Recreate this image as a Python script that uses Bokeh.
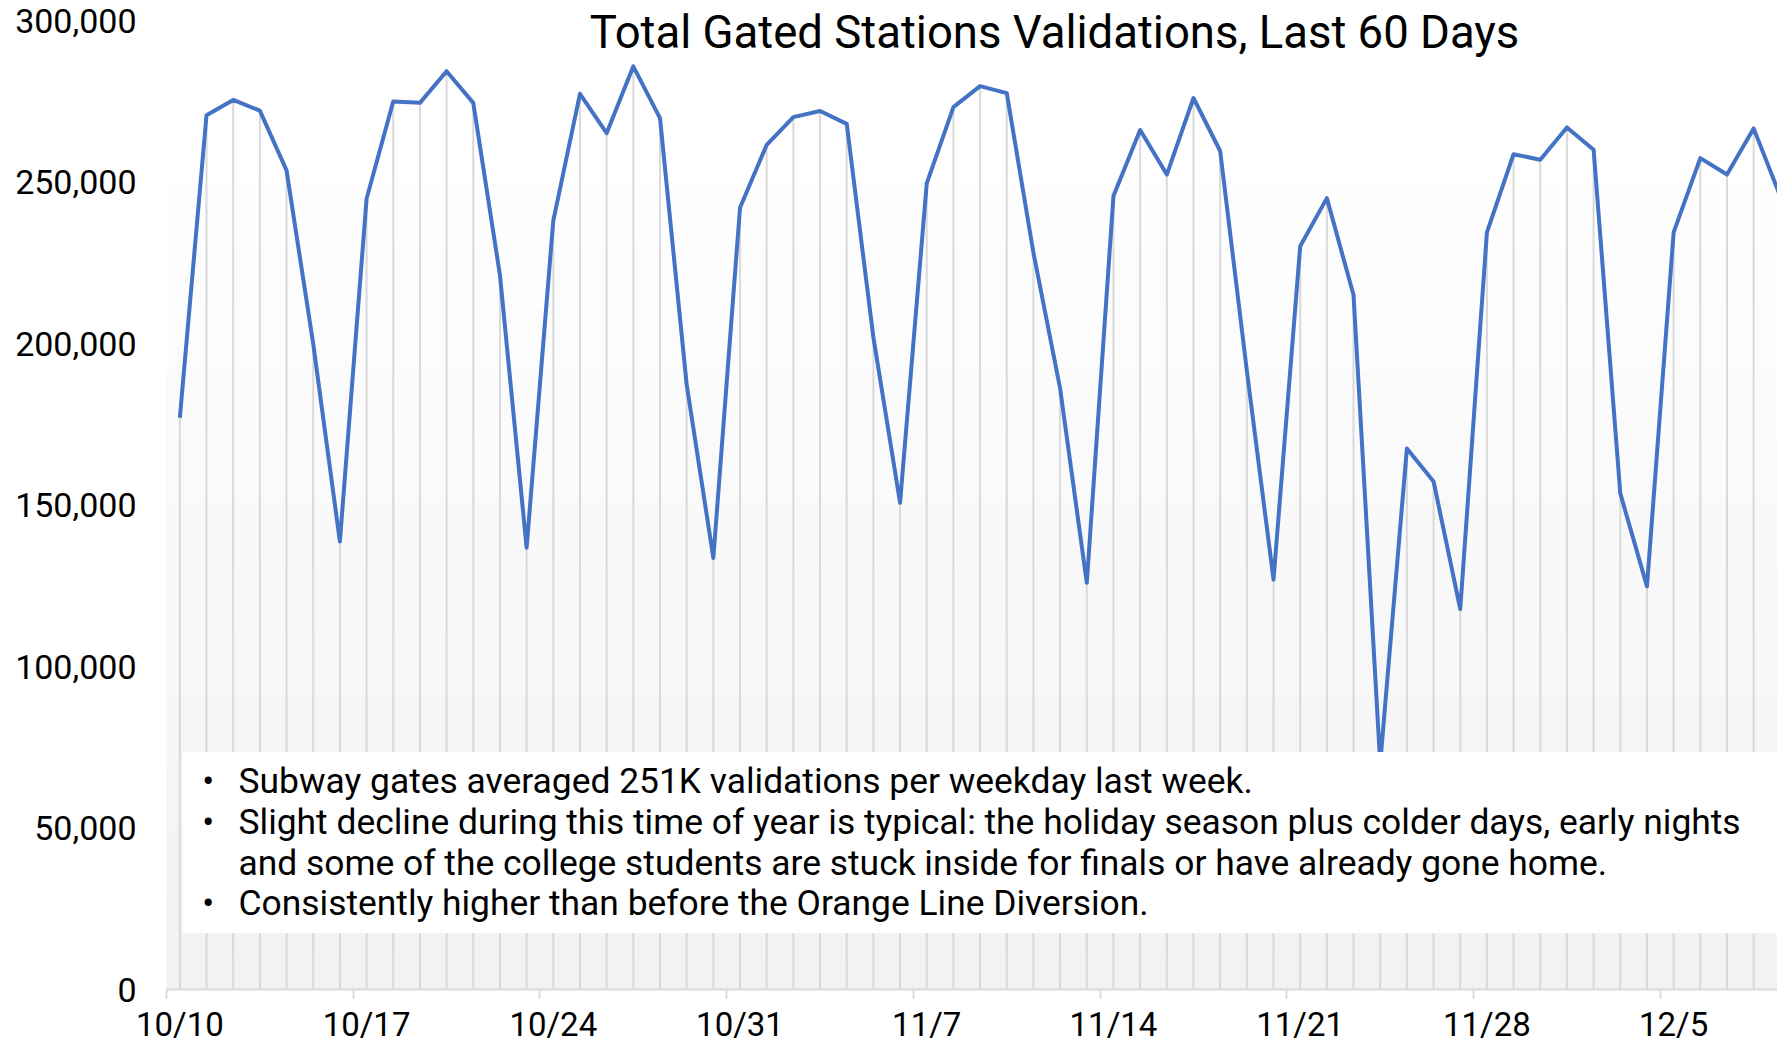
import numpy as np
import pandas as pd
from bokeh.plotting import figure
from bokeh.models import Range1d, FixedTicker, NumeralTickFormatter, Label, BoxAnnotation
from bokeh.embed import file_html
from bokeh.resources import INLINE

# ---------------- data ----------------
dates = pd.date_range("2022-10-10", periods=61)
day_labels = [f"{d.month}/{d.day}" for d in dates]

validations = [
    177000, 270700, 275400, 272100, 253600, 199900, 138700,   # 10/10 - 10/16
    244800, 274900, 274500, 284300, 274500, 221200, 136800,   # 10/17 - 10/23
    238000, 277300, 265100, 285800, 269800, 187300, 133600,   # 10/24 - 10/30
    242000, 261500, 270100, 272000, 268000, 201900, 150700,   # 10/31 - 11/6
    249600, 273200, 279700, 277500, 228100, 186100, 125900,   # 11/7 - 11/13
    245700, 266100, 252300, 276000, 259600, 191600, 126900,   # 11/14 - 11/20
    230100, 245000, 215000, 70000, 167500, 157300, 117800,    # 11/21 - 11/27
    234400, 258600, 256900, 266900, 260000, 153600, 124800,   # 11/28 - 12/4
    234400, 257400, 252300, 266600, 245500,                   # 12/5 - 12/9
]

x_tick_days = [0, 7, 14, 21, 28, 35, 42, 49, 56]
x_tick_labels = ["10/10", "10/17", "10/24", "10/31", "11/7", "11/14", "11/21", "11/28", "12/5"]
y_ticks = [0, 50000, 100000, 150000, 200000, 250000, 300000]

title_text = "Total Gated Stations Validations, Last 60 Days"
notes = [
    "Subway gates averaged 251K validations per weekday last week.",
    "Slight decline during this time of year is typical: the holiday season plus colder days, early nights",
    "and some of the college students are stuck inside for finals or have already gone home.",
    "Consistently higher than before the Orange Line Diversion.",
]
note_bullet = [True, True, False, True]

# ---------------- layout ----------------
FONT = "Roboto"
W, H = 1777, 1045
PLOT_LEFT_PX = 166       # canvas column of the plot area's left edge
ZERO_PX = 989            # canvas row of the value 0
DAY_PX = 26.675
VAL_PER_PX = 300000 / 969.0
x_left_edge = -0.5
x_start = x_left_edge - PLOT_LEFT_PX / DAY_PX    # frame reaches left of canvas
x_end = x_left_edge + (W - PLOT_LEFT_PX) / DAY_PX
y_end = ZERO_PX * VAL_PER_PX                      # frame reaches top of canvas
y_start = -(H - ZERO_PX) * VAL_PER_PX             # frame reaches bottom of canvas

p = figure(width=W, height=H, output_backend="svg", toolbar_location=None,
           x_range=Range1d(x_start, x_end), y_range=Range1d(y_start, y_end),
           min_border_left=0, min_border_right=0,
           min_border_top=0, min_border_bottom=0)
p.background_fill_color = "white"
p.border_fill_color = "white"
p.outline_line_color = None
p.xgrid.visible = False
p.ygrid.visible = False

# plot-area gradient (light grey at bottom to white near top)
n = 300
img = np.zeros((n, 1), dtype=np.uint32)
view = img.view(dtype=np.uint8).reshape((n, 1, 4))
for i in range(n):
    frac = min((i + 0.5) / n * 300000 / 261000, 1.0)
    g = int(round(242 + 13 * frac))
    view[i, 0, :] = [g, g, g, 255]
p.image_rgba(image=[img], x=x_left_edge, y=0, dw=62, dh=300000, level="image")

xs = list(range(len(validations)))
p.segment(x0=xs, y0=[0] * len(xs), x1=xs, y1=validations,
          line_color="#d9d9d9", line_width=2)
p.line(xs, validations, line_color="#4472C4", line_width=4, line_join="round")

# x axis at value 0: weekly boundary ticks (minor), date labels centred on week's first day
xax = p.xaxis[0]
xax.fixed_location = 0
xax.bounds = (x_left_edge, x_end + 5)
xax.ticker = FixedTicker(ticks=x_tick_days, minor_ticks=[d - 0.5 for d in x_tick_days])
xax.major_label_overrides = {d: t for d, t in zip(x_tick_days, x_tick_labels)}
xax.major_tick_line_color = None
xax.major_tick_out = 9
xax.major_tick_in = 0
xax.major_label_standoff = 6
xax.major_label_text_font = FONT
xax.major_label_text_font_size = "33px"
xax.major_label_text_color = "black"
xax.major_label_text_line_height = 0.8
xax.minor_tick_line_color = "#d9d9d9"
xax.minor_tick_line_width = 2
xax.minor_tick_out = 9
xax.minor_tick_in = 0
xax.axis_line_color = "#d9d9d9"
xax.axis_line_width = 2

# y axis at the plot area's left edge
yax = p.yaxis[0]
yax.fixed_location = x_left_edge
yax.ticker = FixedTicker(ticks=y_ticks)
yax.formatter = NumeralTickFormatter(format="0,0")
yax.axis_line_color = None
yax.major_tick_line_color = None
yax.minor_tick_line_color = None
yax.major_tick_out = 0
yax.major_tick_in = 0
yax.major_label_standoff = 30
yax.major_label_text_font = FONT
yax.major_label_text_font_size = "34px"
yax.major_label_text_color = "black"

# title inside plot area
p.add_layout(Label(x=32.79, y=296300, text=title_text, text_align="center",
                   text_baseline="alphabetic", text_font=FONT,
                   text_font_size="45.5px", text_color="black"))

# notes text box
p.add_layout(BoxAnnotation(left=0.11, right=62, bottom=17400, top=73500,
                           fill_color="white", fill_alpha=1.0, line_color=None))
note_y = [64400, 51900, 39300, 26800]
for txt, yb, b in zip(notes, note_y, note_bullet):
    if b:
        p.add_layout(Label(x=1.06, y=yb, text="•", text_align="center",
                           text_baseline="alphabetic", text_font=FONT,
                           text_font_size="35.4px", text_color="black"))
    p.add_layout(Label(x=2.2, y=yb, text=txt, text_align="left",
                       text_baseline="alphabetic", text_font=FONT,
                       text_font_size="35.4px", text_color="black"))

open("out.html", "w").write(file_html(p, INLINE))
